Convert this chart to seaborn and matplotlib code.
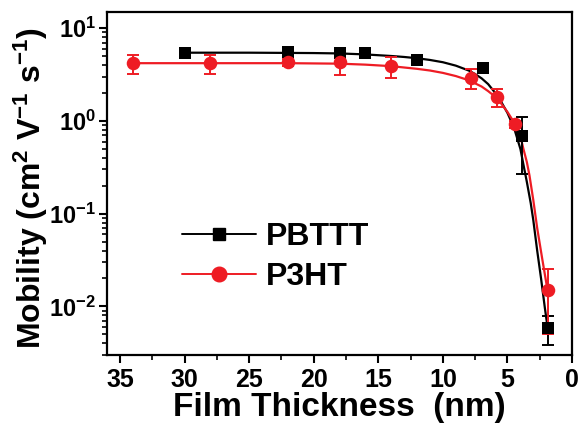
import numpy as np
import pandas as pd
import matplotlib
matplotlib.use("Agg")
import matplotlib.pyplot as plt
import seaborn as sns
from matplotlib.lines import Line2D
from matplotlib.ticker import MultipleLocator, LogLocator

# measured points
pbttt_x = [30, 22, 18, 16, 12, 6.9, 3.9, 1.9]
pbttt_y = [5.4, 5.6, 5.4, 5.4, 4.5, 3.7, 0.68, 0.0058]
pbttt_err = [0.25, 0.3, 0.2, 0.2, 0.2, 0.2, 0.41, 0.002]

p3ht_x = [34, 28, 22, 18, 14, 7.85, 5.8, 4.4, 1.9]
p3ht_y = [4.2, 4.2, 4.3, 4.3, 3.9, 2.9, 1.8, 0.93, 0.015]
p3ht_err = [1.0, 1.0, 0.4, 1.2, 1.0, 0.7, 0.4, 0.08, 0.01]

# fitted curves
pbttt_fit_x = [30, 25, 20, 18, 16, 14, 13, 12, 11, 10, 9, 8, 7.5, 7, 6.5, 6, 5.5, 5, 4.5, 4, 3.75, 3.5, 3.2, 3, 2.7, 2.4, 2.1, 1.9]
pbttt_fit_y = [5.45, 5.45, 5.4, 5.35, 5.22, 5.02, 4.9, 4.75, 4.55, 4.3, 3.95, 3.5, 3.2, 2.88, 2.5, 2.05, 1.62, 1.22, 0.85, 0.5, 0.33, 0.22, 0.13, 0.085, 0.04, 0.02, 0.0095, 0.006]
p3ht_fit_x = [34, 28, 22, 18, 16, 14, 12, 11, 10, 9, 8, 7, 6.5, 6, 5.5, 5, 4.6, 4.3, 4, 3.75, 3.5, 3.3, 3, 2.7, 2.3, 1.9]
p3ht_fit_y = [4.2, 4.2, 4.2, 4.15, 4.05, 3.9, 3.65, 3.5, 3.3, 3.05, 2.75, 2.35, 2.1, 1.85, 1.55, 1.25, 1.02, 0.88, 0.68, 0.49, 0.36, 0.26, 0.14, 0.07, 0.032, 0.015]

sns.set_style("ticks")
plt.rcParams['font.family'] = ['Liberation Sans', 'DejaVu Sans']
plt.rcParams['font.weight'] = 'bold'
plt.rcParams['text.color'] = 'black'
plt.rcParams['axes.labelcolor'] = 'black'
plt.rcParams['xtick.color'] = 'black'
plt.rcParams['ytick.color'] = 'black'
plt.rcParams['mathtext.fontset'] = 'custom'
plt.rcParams['mathtext.rm'] = 'Liberation Sans:bold'
plt.rcParams['mathtext.bf'] = 'Liberation Sans:bold'
plt.rcParams['mathtext.it'] = 'Liberation Sans:bold'

fig = plt.figure(figsize=(5.79, 4.26), dpi=100)
ax = fig.add_axes([0.185, 0.167, 0.803, 0.805])

black = "#000000"
red = "#ee1c24"

sns.lineplot(x=pbttt_fit_x, y=pbttt_fit_y, ax=ax, color=black, lw=1.6, sort=False)
sns.lineplot(x=p3ht_fit_x, y=p3ht_fit_y, ax=ax, color=red, lw=1.6, sort=False)

ax.errorbar(pbttt_x, pbttt_y, yerr=pbttt_err, fmt="none", ecolor=black, elinewidth=1.4, capsize=4, capthick=1.4, zorder=3)
ax.errorbar(p3ht_x, p3ht_y, yerr=p3ht_err, fmt="none", ecolor=red, elinewidth=1.4, capsize=4, capthick=1.4, zorder=3)
sns.scatterplot(x=pbttt_x, y=pbttt_y, ax=ax, marker="s", s=64, color=black, edgecolor=black, linewidth=0, zorder=4)
sns.scatterplot(x=p3ht_x, y=p3ht_y, ax=ax, marker="o", s=95, color=red, edgecolor=red, linewidth=0, zorder=4)

ax.set_yscale("log")
ax.set_xlim(36, 0)
ax.set_ylim(3e-3, 15)
ax.xaxis.set_major_locator(MultipleLocator(5))
ax.xaxis.set_minor_locator(MultipleLocator(2.5))
ax.yaxis.set_major_locator(LogLocator(base=10, numticks=10))
ax.yaxis.set_minor_locator(LogLocator(base=10, subs=np.arange(2, 10), numticks=10))

for s in ax.spines.values():
    s.set_linewidth(1.6)
    s.set_color("black")
ax.tick_params(axis="both", which="major", direction="out", length=6, width=1.5, labelsize=18, colors="black")
ax.tick_params(axis="both", which="minor", direction="out", length=3.5, width=1.2, colors="black")
ax.tick_params(axis="y", which="major", labelsize=17, pad=2)
for lab in ax.get_xticklabels() + ax.get_yticklabels():
    lab.set_fontweight("bold")

ax.set_xlabel("Film Thickness  (nm)", fontsize=24, fontweight="bold", labelpad=0, color="black")
ax.set_ylabel(r"Mobility (cm$^{2}$ V$^{-1}$ s$^{-1}$)", fontsize=23, fontweight="bold", color="black")
ax.yaxis.set_label_coords(-0.123, 0.487)

handles = [
    Line2D([], [], color=black, lw=1.4, marker="s", markersize=8.5),
    Line2D([], [], color=red, lw=1.4, marker="o", markersize=10.5),
]
ax.legend(handles, ["PBTTT", "P3HT"], loc="center left", bbox_to_anchor=(0.10, 0.285),
          frameon=False, handlelength=2.3, handletextpad=0.3, labelspacing=0.3,
          labelcolor="black", prop={"size": 23, "weight": "bold"})

fig.savefig("out.png", dpi=100)
